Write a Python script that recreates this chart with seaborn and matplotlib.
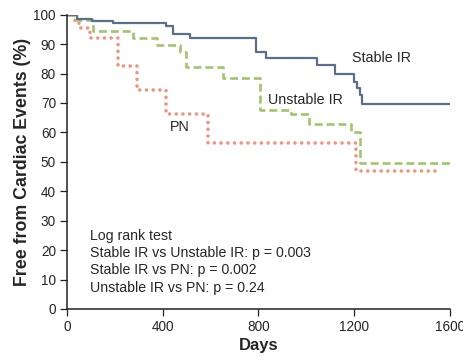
import pandas as pd
import matplotlib.pyplot as plt
import seaborn as sns

# Kaplan-Meier step curves
stable_days = [0, 42, 103, 192, 415, 443, 513, 790, 832, 1046, 1121, 1200, 1210, 1222, 1234, 1600]
stable_surv = [100, 98.5, 97.8, 97.3, 96.3, 93.3, 92.0, 87.4, 85.2, 82.9, 80.0, 77.2, 75.0, 72.7, 69.5, 69.5]

unstable_days = [0, 42, 109, 275, 374, 471, 499, 651, 805, 935, 1013, 1188, 1222, 1600]
unstable_surv = [100, 98.2, 94.4, 92.0, 89.7, 87.4, 82.3, 78.5, 67.6, 66.2, 63.0, 60.2, 49.7, 49.7]

pn_days = [0, 35, 50, 96, 214, 292, 415, 588, 1208, 1550]
pn_surv = [100, 98.0, 95.4, 92.0, 82.5, 74.4, 66.2, 56.4, 46.8, 46.8]

stats_lines = [
    "Log rank test",
    "Stable IR vs Unstable IR: p = 0.003",
    "Stable IR vs PN: p = 0.002",
    "Unstable IR vs PN: p = 0.24",
]

sns.set_style("ticks")
plt.rcParams["font.family"] = ["Liberation Sans", "DejaVu Sans"]

fig = plt.figure(figsize=(4.64, 3.58), dpi=100)
ax = fig.add_axes([0.1444, 0.1369, 0.8254, 0.8221])

df_stable = pd.DataFrame({"day": stable_days, "surv": stable_surv})
df_unstable = pd.DataFrame({"day": unstable_days, "surv": unstable_surv})
df_pn = pd.DataFrame({"day": pn_days, "surv": pn_surv})

sns.lineplot(data=df_pn, x="day", y="surv", ax=ax, drawstyle="steps-post",
             color="#f4937d", linewidth=2.6, linestyle=(0, (0.01, 1.85)),
             dash_capstyle="round", estimator=None, sort=False)
sns.lineplot(data=df_unstable, x="day", y="surv", ax=ax, drawstyle="steps-post",
             color="#a3c46e", linewidth=1.9, linestyle=(0, (3.0, 1.5)),
             estimator=None, sort=False)
sns.lineplot(data=df_stable, x="day", y="surv", ax=ax, drawstyle="steps-post",
             color="#5b6f88", linewidth=1.6, estimator=None, sort=False)

ax.text(1189, 85.2, "Stable IR", fontsize=10.3, va="center", ha="left")
ax.text(841, 71, "Unstable IR", fontsize=10.3, va="center", ha="left")
ax.text(430, 61.9, "PN", fontsize=10.3, va="center", ha="left")

for i, line in enumerate(stats_lines):
    ax.text(96, 24.7 - i * 5.8, line, fontsize=10.2, va="center", ha="left")

ax.set_xlim(0, 1600)
ax.set_ylim(0, 100)
ax.set_xticks([0, 400, 800, 1200, 1600])
ax.set_yticks(range(0, 101, 10))
ax.tick_params(labelsize=9.8, length=5, width=0.9, color="#222222", pad=3)
ax.set_xlabel("Days", fontsize=12, fontweight="bold", labelpad=3)
ax.set_ylabel("Free from Cardiac Events (%)", fontsize=12.8, fontweight="bold", labelpad=2)
for side in ["left", "bottom"]:
    ax.spines[side].set_linewidth(1.1)
    ax.spines[side].set_color("#222222")
sns.despine(ax=ax)

fig.savefig("out.png", dpi=100)
